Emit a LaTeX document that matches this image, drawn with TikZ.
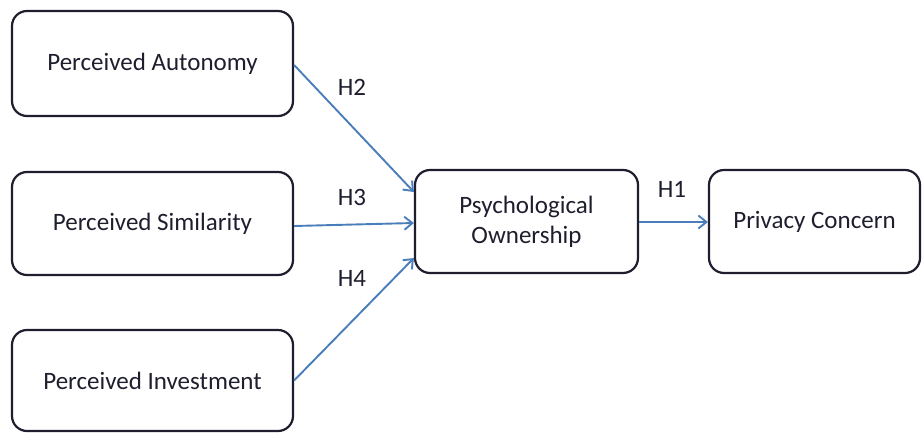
\documentclass[tikz,border=0pt]{standalone}
\usepackage{fontspec}
\setmainfont{Carlito}
\usetikzlibrary{arrows.meta}
\definecolor{linkblue}{HTML}{4A7EBB}
\definecolor{inkdark}{HTML}{1E1E2E}
\begin{document}
\begin{tikzpicture}[x=1pt,y=-1pt,
  construct/.style={draw=inkdark, line width=2.2pt, rounded corners=15pt,
    minimum height=103pt, inner sep=0pt, align=center,
    font=\fontsize{25}{30}\selectfont, text=inkdark},
  link/.style={draw=linkblue, line width=1.9pt,
    -{Straight Barb[length=8pt,width=13pt,line width=1.9pt]}},
  hyp/.style={font=\fontsize{25}{28}\selectfont, text=inkdark}]
\useasboundingbox (0,0) rectangle (922,432);
\node[construct, minimum width=281pt, minimum height=105pt] (auto) at (152.5,63.5) {Perceived Autonomy};
\node[construct, minimum width=281pt] (simi) at (152.5,223.5) {Perceived Similarity};
\node[construct, minimum width=281pt, minimum height=101pt] (inv) at (152.5,380.5) {Perceived Investment};
\node[construct, minimum width=223pt] (own) at (526.5,221.5) {Psychological\\Ownership};
\node[construct, minimum width=211pt] (priv) at (814.5,221.5) {Privacy Concern};
\draw[link] ([yshift=-1.5pt]auto.east) -- ([yshift=29.5pt]own.west);
\draw[link] ([yshift=-2.5pt]simi.east) -- ([yshift=-1.5pt]own.west);
\draw[link] (inv.east) -- ([yshift=-36.5pt]own.west);
\draw[link] ([yshift=-0.5pt]own.east) -- ([yshift=-0.5pt]priv.west);
\node[hyp] (h2) at (352,87) {H2};
\node[hyp] (h3) at (352,197) {H3};
\node[hyp] (h4) at (352,278) {H4};
\node[hyp] (h1) at (672,189) {H1};
\end{tikzpicture}
\end{document}
